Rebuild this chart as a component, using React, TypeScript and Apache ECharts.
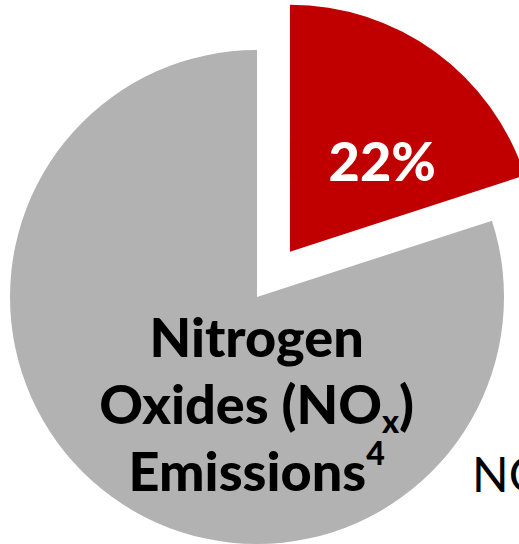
import React, { useEffect, useRef } from "react";
import * as echarts from "echarts";

const categories = ["NOx share", "Other"];
const sliceValues = [20, 80];
const shareLabels = ["22%", ""];
const colors = ["#C00000", "#B2B2B2"];
const grayTitle = ["Nitrogen", "Oxides (NO{sub|x})", "Emissions{sup|4}"];
const cutText = "NO";

export default function App() {
  const ref = useRef<HTMLDivElement>(null);
  useEffect(() => {
    const chart = echarts.init(ref.current!, null, { renderer: "svg" });
    const font = "Lato";
    chart.setOption({
      animation: false,
      series: [
        {
          type: "pie",
          center: [257, 297],
          radius: 247,
          startAngle: 90,
          clockwise: true,
          selectedMode: "single",
          selectedOffset: 56,
          silent: true,
          emphasis: { disabled: true },
          labelLine: { show: false },
          labelLayout: (p: any) =>
            p.dataIndex === 0 ? { dx: 18, dy: 11 } : { dx: 74, dy: 4 },
          data: categories.map((c, i) => ({
            name: c,
            value: sliceValues[i],
            selected: i === 0,
            itemStyle: { color: colors[i], borderWidth: 0 },
            label:
              i === 0
                ? {
                    show: true,
                    position: "inside",
                    formatter: shareLabels[0],
                    color: "#FFFFFF",
                    fontFamily: font,
                    fontWeight: 900,
                    fontSize: 54,
                  }
                : {
                    show: true,
                    position: "inside",
                    formatter: grayTitle.join("\n"),
                    color: "#000000",
                    fontFamily: font,
                    fontWeight: 900,
                    fontSize: 54,
                    lineHeight: 67,
                    align: "center",
                    rich: {
                      sub: {
                        fontFamily: font,
                        fontWeight: 900,
                        fontSize: 32,
                        color: "#000",
                        verticalAlign: "bottom",
                        lineHeight: 38,
                      },
                      sup: {
                        fontFamily: font,
                        fontWeight: 900,
                        fontSize: 32,
                        color: "#000",
                        verticalAlign: "top",
                        lineHeight: 38,
                      },
                    },
                  },
          })),
        },
      ],
      graphic: [
        {
          type: "text",
          left: 472,
          top: 449,
          style: {
            text: cutText,
            font: "normal 48px Lato",
            fill: "#000",
          },
        },
      ],
    });
    return () => chart.dispose();
  }, []);
  return (
    <div
      ref={ref}
      style={{ position: "absolute", left: 0, top: 0, width: 519, height: 544 }}
    />
  );
}
